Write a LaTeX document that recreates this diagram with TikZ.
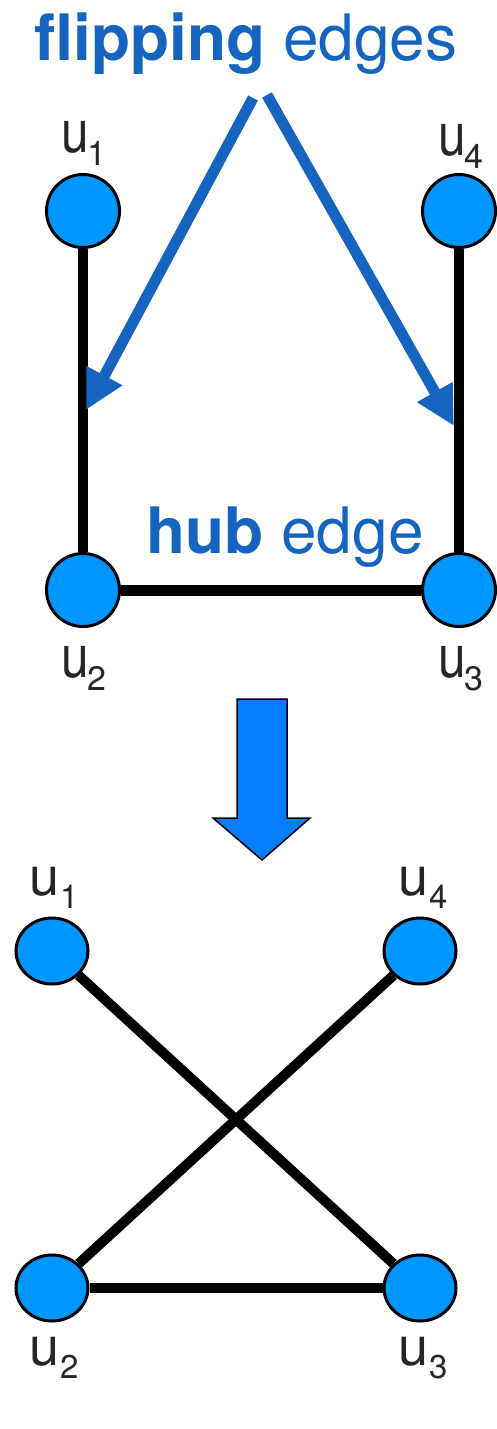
\documentclass[tikz,border=0pt]{standalone}
\usepackage{fontspec}
\setmainfont{TeX Gyre Heros}
\usetikzlibrary{arrows.meta,shapes.geometric}
\definecolor{nodeblue}{RGB}{0,150,255}
\definecolor{flowblue}{RGB}{8,124,255}
\definecolor{textblue}{RGB}{21,101,192}
% vertex name: a letter u with a lowered index
\newcommand{\vlabel}[1]{\scalebox{0.92}[1.1]{u}\kern-1pt\raisebox{-13pt}{\fontsize{34}{34}\selectfont #1}}
\newcommand{\wlabel}[1]{u\kern1pt\raisebox{-13pt}{\fontsize{33}{33}\selectfont #1}}
\tikzset{
  vertex/.style={circle,draw=black,line width=3pt,fill=nodeblue,minimum size=73pt,inner sep=0pt},
  overtex/.style={ellipse,draw=black,line width=3pt,fill=nodeblue,minimum width=72pt,minimum height=66pt,inner sep=0pt},
  vname/.style={anchor=base west,inner sep=0pt,font=\fontsize{54}{54}\selectfont,text=black!85},
  edge/.style={line width=10pt,black},
  pointer/.style={line width=11pt,textblue,-{Triangle[length=39pt,width=38pt]}},
  caption/.style={anchor=base west,inner sep=0pt,text=textblue,font=\fontsize{64}{64}\selectfont},
}
\begin{document}
\begin{tikzpicture}[x=1pt,y=-1pt]
\useasboundingbox (0,0) rectangle (497,1429);

% --- graph before the flip ---
\node[vertex] (a1) at (83,211) {};
\node[vertex] (a4) at (459,211) {};
\node[vertex] (a2) at (83,590) {};
\node[vertex] (a3) at (459,590) {};
\draw[edge] (a1) -- (a2);
\draw[edge] (a4) -- (a3);
\draw[edge,line width=11pt] (a2) -- (a3);

\node[vname] (la1) at (61,152) {\vlabel{1}};
\node[vname] (la4) at (438,155) {\vlabel{4}};
\node[vname] (la2) at (61,677) {\vlabel{2}};
\node[vname] (la3) at (438,677) {\vlabel{3}};

\node[caption] (flip) at (34,60) {\textbf{flipping} edges};
\node[caption] (hub) at (146,553) {\textbf{hub} edge};

\coordinate (pl) at (253,98);
\coordinate (pr) at (267,95);
\coordinate (tl) at (86,410);
\coordinate (tr) at (454,426);
\draw[pointer] (pl) -- (tl);
\draw[pointer] (pr) -- (tr);

% --- transition arrow ---
\draw[fill=flowblue,draw=black,line width=1.5pt,line join=miter]
  (237,699) -- (287,699) -- (287,818) -- (310,818) -- (262,860)
  -- (213,818) -- (237,818) -- cycle;

% --- graph after the flip ---
\node[overtex] (b1) at (52,951) {};
\node[overtex] (b4) at (420,951) {};
\node[overtex] (b2) at (52,1288) {};
\node[overtex] (b3) at (420,1288) {};
\draw[edge] (b1) -- (b3);
\draw[edge] (b4) -- (b2);
\draw[edge] (b2) -- (b3);

\node[vname] (lb1) at (29,895) {\wlabel{1}};
\node[vname] (lb4) at (398,895) {\wlabel{4}};
\node[vname] (lb2) at (29,1365) {\wlabel{2}};
\node[vname] (lb3) at (398,1365) {\wlabel{3}};
\end{tikzpicture}
\end{document}
